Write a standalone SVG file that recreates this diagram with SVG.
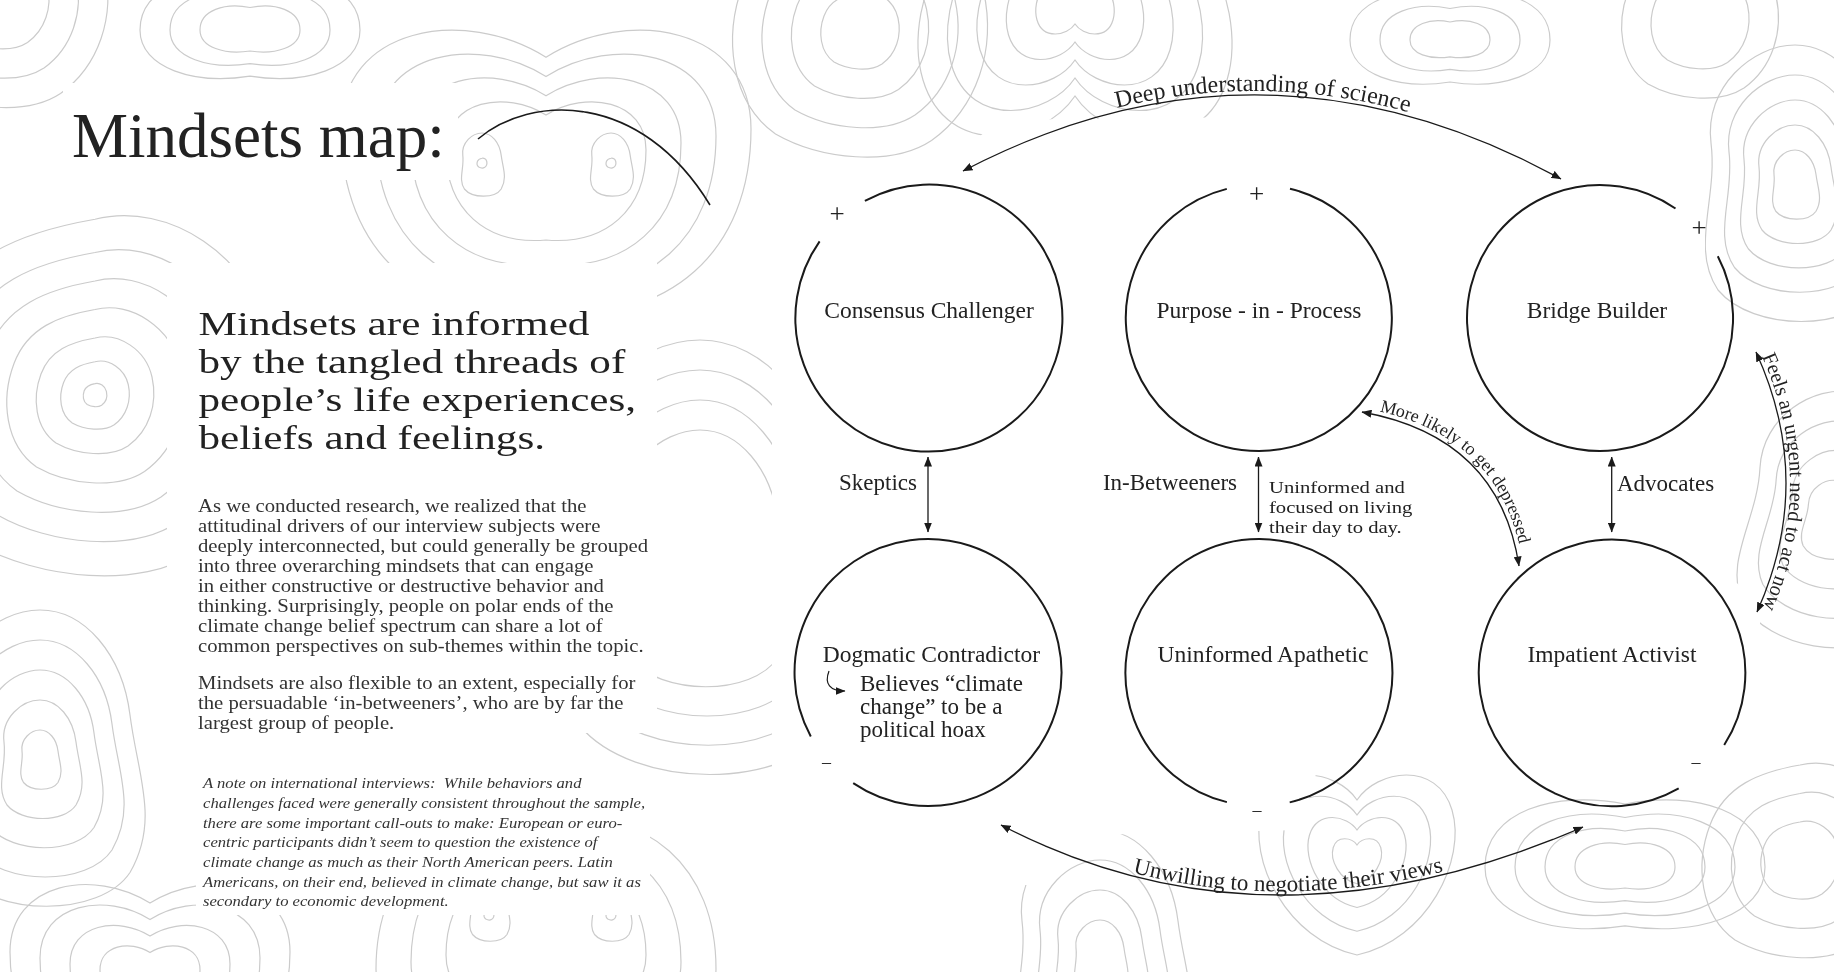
<svg xmlns="http://www.w3.org/2000/svg" xmlns:xlink="http://www.w3.org/1999/xlink" width="1834" height="972" viewBox="0 0 1834 972">
<style>
.t{font-family:"Liberation Serif","Times New Roman",serif;fill:#222}
.lbl{font-size:23.5px;text-anchor:middle}
.sm{font-size:23px}
.ring{fill:none;stroke:#1a1a1a;stroke-width:2}
.ar{fill:none;stroke:#1a1a1a;stroke-width:1.3;marker-start:url(#ah);marker-end:url(#ah)}
.topo{fill:none;stroke:#cbcbcb;stroke-width:1.2}
.sign{font-family:"Liberation Serif",serif;fill:#222;text-anchor:middle}
.ml{font-size:18px}
</style>
<defs>
<marker id="ah" viewBox="0 0 10 8" refX="9.5" refY="4" markerWidth="10" markerHeight="8" markerUnits="userSpaceOnUse" orient="auto-start-reverse"><path d="M0,0 L10,4 L0,8 Z" fill="#1a1a1a"/></marker>
<path id="b1" class="topo" vector-effect="non-scaling-stroke" d="M 0,-95 C 40,-105 85,-75 95,-30 C 105,15 90,60 55,85 C 25,105 -30,100 -65,80 C -100,55 -105,5 -90,-35 C -75,-75 -40,-88 0,-95 Z"/>
<path id="b2" class="topo" vector-effect="non-scaling-stroke" d="M -100,-20 C -100,-70 -40,-80 0,-55 C 40,-80 100,-70 100,-20 C 100,40 60,75 0,70 C -60,75 -100,40 -100,-20 Z"/>
<path id="b3" class="topo" vector-effect="non-scaling-stroke" d="M 0,-100 C 30,-100 55,-70 60,-30 C 65,10 80,40 60,75 C 40,105 -30,105 -55,75 C -75,45 -55,10 -60,-30 C -65,-70 -30,-100 0,-100 Z"/>
<path id="b4" class="topo" vector-effect="non-scaling-stroke" d="M 0,-60 C 20,-90 80,-100 95,-50 C 110,0 70,80 0,95 C -70,80 -110,0 -95,-50 C -80,-100 -20,-90 0,-60 Z"/>
<path id="b5" class="topo" vector-effect="non-scaling-stroke" d="M -100,0 C -100,-40 -50,-55 0,-45 C 50,-55 100,-40 100,0 C 100,35 50,50 0,42 C -50,50 -100,35 -100,0 Z"/>
<mask id="clear" maskUnits="userSpaceOnUse" x="0" y="0" width="1834" height="972">
<rect width="1834" height="972" fill="#fff"/>
<rect x="63" y="83" width="395" height="97" fill="#000"/>
<rect x="167" y="263" width="490" height="470" fill="#000"/>
<rect x="196" y="770" width="454" height="145" fill="#000"/>
<path d="M 772,178 L 950,160 L 1000,120 L 1400,115 L 1640,160 L 1705,200 L 1705,560 L 1760,600 L 1760,760 L 1570,760 L 1545,750 L 1320,760 L 1300,830 L 1090,835 L 1050,885 L 772,885 Z" fill="#000"/>
</mask>
<path id="pDeep" d="M 963 167 Q 1262 11 1561 175"/>
<path id="pUnw" d="M 1001 822 Q 1268 960 1583 824"/>
<path id="pMore" d="M 1365.5 408.4 Q 1503 433.4 1522.5 562.4"/>
<path id="pFeels" d="M 1760 352 Q 1819.5 482 1761 612"/>
</defs>
<rect width="1834" height="972" fill="#fff"/>

<g id="contours" mask="url(#clear)">
<use xlink:href="#b2" transform="translate(546,170) scale(1.0)"/>
<use xlink:href="#b2" transform="translate(546,170) scale(1.35)"/>
<use xlink:href="#b2" transform="translate(546,170) scale(1.7)"/>
<use xlink:href="#b2" transform="translate(546,170) scale(2.05)"/>
<use xlink:href="#b1" transform="translate(482,163) scale(0.05)"/>
<use xlink:href="#b3" transform="translate(482,165) scale(0.32)"/>
<use xlink:href="#b1" transform="translate(611,163) scale(0.05)"/>
<use xlink:href="#b3" transform="translate(611,165) scale(0.32)"/>
<use xlink:href="#b2" transform="translate(546,935) rotate(180) scale(1.0)"/>
<use xlink:href="#b2" transform="translate(546,935) rotate(180) scale(1.35)"/>
<use xlink:href="#b2" transform="translate(546,935) rotate(180) scale(1.7)"/>
<use xlink:href="#b1" transform="translate(489,915) scale(0.05)"/>
<use xlink:href="#b3" transform="translate(489,912) scale(0.3)"/>
<use xlink:href="#b1" transform="translate(611,915) scale(0.05)"/>
<use xlink:href="#b3" transform="translate(611,912) scale(0.3)"/>
<use xlink:href="#b1" transform="translate(95,395) scale(0.12)"/>
<use xlink:href="#b1" transform="translate(95,395) scale(0.35)"/>
<use xlink:href="#b1" transform="translate(95,395) scale(0.6)"/>
<use xlink:href="#b1" transform="translate(95,395) scale(0.9)"/>
<use xlink:href="#b1" transform="translate(95,395) scale(1.2)"/>
<use xlink:href="#b1" transform="translate(95,395) scale(1.5)"/>
<use xlink:href="#b1" transform="translate(95,395) scale(1.85)"/>
<use xlink:href="#b3" transform="translate(40,760) scale(0.3)"/>
<use xlink:href="#b3" transform="translate(40,760) scale(0.6)"/>
<use xlink:href="#b3" transform="translate(40,760) scale(0.9)"/>
<use xlink:href="#b3" transform="translate(40,760) scale(1.2)"/>
<use xlink:href="#b3" transform="translate(40,760) scale(1.5)"/>
<use xlink:href="#b1" transform="translate(0,0) scale(0.5)"/>
<use xlink:href="#b1" transform="translate(0,0) scale(0.8)"/>
<use xlink:href="#b1" transform="translate(0,0) scale(1.1)"/>
<use xlink:href="#b4" transform="translate(1075,0) rotate(180) scale(0.4)"/>
<use xlink:href="#b4" transform="translate(1075,0) rotate(180) scale(0.7)"/>
<use xlink:href="#b4" transform="translate(1075,0) rotate(180) scale(1.0)"/>
<use xlink:href="#b4" transform="translate(1075,0) rotate(180) scale(1.3)"/>
<use xlink:href="#b4" transform="translate(1075,0) rotate(180) scale(1.6)"/>
<use xlink:href="#b3" transform="translate(1795,185) scale(0.35)"/>
<use xlink:href="#b3" transform="translate(1795,185) scale(0.6)"/>
<use xlink:href="#b3" transform="translate(1795,185) scale(0.85)"/>
<use xlink:href="#b3" transform="translate(1795,185) scale(1.1)"/>
<use xlink:href="#b3" transform="translate(1795,185) scale(1.4)"/>
<use xlink:href="#b3" transform="translate(1830,520) rotate(10) scale(0.4)"/>
<use xlink:href="#b3" transform="translate(1830,520) rotate(10) scale(0.7)"/>
<use xlink:href="#b3" transform="translate(1830,520) rotate(10) scale(1.0)"/>
<use xlink:href="#b3" transform="translate(1830,520) rotate(10) scale(1.3)"/>
<use xlink:href="#b5" transform="translate(1625,867) scale(0.5)"/>
<use xlink:href="#b5" transform="translate(1625,867) scale(0.8)"/>
<use xlink:href="#b5" transform="translate(1625,867) scale(1.1)"/>
<use xlink:href="#b5" transform="translate(1625,867) scale(1.4)"/>
<use xlink:href="#b4" transform="translate(1357,860) scale(0.25)"/>
<use xlink:href="#b4" transform="translate(1357,860) scale(0.5)"/>
<use xlink:href="#b4" transform="translate(1357,860) scale(0.75)"/>
<use xlink:href="#b4" transform="translate(1357,860) scale(1.0)"/>
<use xlink:href="#b3" transform="translate(1100,960) scale(0.4)"/>
<use xlink:href="#b3" transform="translate(1100,960) scale(0.7)"/>
<use xlink:href="#b3" transform="translate(1100,960) scale(1.0)"/>
<use xlink:href="#b3" transform="translate(1100,960) scale(1.3)"/>
<use xlink:href="#b3" transform="translate(700,560) scale(1.3)"/>
<use xlink:href="#b3" transform="translate(700,560) scale(1.6)"/>
<use xlink:href="#b3" transform="translate(700,560) scale(1.9)"/>
<use xlink:href="#b3" transform="translate(700,560) scale(2.2)"/>
<use xlink:href="#b1" transform="translate(860,30) scale(0.4)"/>
<use xlink:href="#b1" transform="translate(860,30) scale(0.7)"/>
<use xlink:href="#b1" transform="translate(860,30) scale(1.0)"/>
<use xlink:href="#b1" transform="translate(860,30) scale(1.3)"/>
<use xlink:href="#b1" transform="translate(1800,860) scale(0.4)"/>
<use xlink:href="#b1" transform="translate(1800,860) scale(0.7)"/>
<use xlink:href="#b1" transform="translate(1800,860) scale(1.0)"/>
<use xlink:href="#b5" transform="translate(250,30) scale(0.5)"/>
<use xlink:href="#b5" transform="translate(250,30) scale(0.8)"/>
<use xlink:href="#b5" transform="translate(250,30) scale(1.1)"/>
<use xlink:href="#b2" transform="translate(150,980) scale(0.5)"/>
<use xlink:href="#b2" transform="translate(150,980) scale(0.8)"/>
<use xlink:href="#b2" transform="translate(150,980) scale(1.1)"/>
<use xlink:href="#b2" transform="translate(150,980) scale(1.4)"/>
<use xlink:href="#b5" transform="translate(1450,40) scale(0.4)"/>
<use xlink:href="#b5" transform="translate(1450,40) scale(0.7)"/>
<use xlink:href="#b5" transform="translate(1450,40) scale(1.0)"/>
<use xlink:href="#b1" transform="translate(1700,20) scale(0.5)"/>
<use xlink:href="#b1" transform="translate(1700,20) scale(0.8)"/>
</g>

<g id="title">
<text class="t" x="72" y="157" font-size="63">Mindsets map:</text>
<path d="M 478 139 C 530 95, 640 90, 710 205" fill="none" stroke="#1a1a1a" stroke-width="1.6"/>
</g>

<g id="subheading" transform="translate(198.5,0) scale(1.27,1)">
<text class="t" font-size="34"><tspan x="0" y="335">Mindsets are informed</tspan><tspan x="0" y="373.5">by the tangled threads of</tspan><tspan x="0" y="411">people’s life experiences,</tspan><tspan x="0" y="449.5">beliefs and feelings.</tspan></text>
</g>

<g id="body" transform="translate(198,0) scale(1.12,1)">
<text class="t" font-size="18.5" style="fill:#333">
<tspan x="0" y="511.7">As we conducted research, we realized that the</tspan>
<tspan x="0" y="531.7">attitudinal drivers of our interview subjects were</tspan>
<tspan x="0" y="551.7">deeply interconnected, but could generally be grouped</tspan>
<tspan x="0" y="571.7">into three overarching mindsets that can engage</tspan>
<tspan x="0" y="591.7">in either constructive or destructive behavior and</tspan>
<tspan x="0" y="611.7">thinking. Surprisingly, people on polar ends of the</tspan>
<tspan x="0" y="631.7">climate change belief spectrum can share a lot of</tspan>
<tspan x="0" y="651.7">common perspectives on sub-themes within the topic.</tspan>
<tspan x="0" y="689.3">Mindsets are also flexible to an extent, especially for</tspan>
<tspan x="0" y="709.3">the persuadable ‘in-betweeners’, who are by far the</tspan>
<tspan x="0" y="729.3">largest group of people.</tspan>
</text>
</g>

<g id="note" transform="translate(203,0) scale(1.11,1)">
<text class="t" font-size="15" font-style="italic" style="fill:#333">
<tspan x="0" y="788.3">A note on international interviews:&#160; While behaviors and</tspan>
<tspan x="0" y="808">challenges faced were generally consistent throughout the sample,</tspan>
<tspan x="0" y="827.7">there are some important call-outs to make: European or euro-</tspan>
<tspan x="0" y="847.4">centric participants didn’t seem to question the existence of</tspan>
<tspan x="0" y="867.1">climate change as much as their North American peers. Latin</tspan>
<tspan x="0" y="886.8">Americans, on their end, believed in climate change, but saw it as</tspan>
<tspan x="0" y="906.5">secondary to economic development.</tspan>
</text>
</g>

<g id="connectors">
<line class="ar" x1="928" y1="457" x2="928" y2="532"/>
<line class="ar" x1="1258.5" y1="457" x2="1258.5" y2="532"/>
<line class="ar" x1="1611.7" y1="457" x2="1611.7" y2="532"/>
<path class="ar" d="M 963 171 Q 1262 15 1561 179"/>
<path class="ar" d="M 1001 825 Q 1268 964 1583 827"/>
<path class="ar" d="M 1362 412 Q 1499.5 437 1519 566"/>
<path class="ar" d="M 1756 352 Q 1815.5 482 1757 612"/>
<path d="M 829 671 C 824 684, 830 691, 845 691" fill="none" stroke="#1a1a1a" stroke-width="1.2" marker-end="url(#ah)"/>
<text class="t" font-size="24"><textPath xlink:href="#pDeep" startOffset="50%" text-anchor="middle">Deep understanding of science</textPath></text>
<text class="t" font-size="23"><textPath xlink:href="#pUnw" startOffset="49.5%" text-anchor="middle">Unwilling to negotiate their views</textPath></text>
<text class="t ml"><textPath xlink:href="#pMore" startOffset="14">More</textPath></text>
<text class="t ml"><textPath xlink:href="#pMore" startOffset="57.5">likely</textPath></text>
<text class="t ml"><textPath xlink:href="#pMore" startOffset="103">to</textPath></text>
<text class="t ml"><textPath xlink:href="#pMore" startOffset="121.5">get</textPath></text>
<text class="t ml"><textPath xlink:href="#pMore" startOffset="148">depressed</textPath></text>
<text class="t" font-size="20.5"><textPath xlink:href="#pFeels" startOffset="50%" text-anchor="middle">Feels an urgent need to act now</textPath></text>
<text class="t sm" x="917" y="490" text-anchor="end">Skeptics</text>
<text class="t sm" x="1237" y="490" text-anchor="end">In-Betweeners</text>
<text class="t sm" x="1617" y="491">Advocates</text>
<g transform="translate(1269,0) scale(1.18,1)">
<text class="t" font-size="17.5"><tspan x="0" y="492.7">Uninformed and</tspan><tspan x="0" y="512.7">focused on living</tspan><tspan x="0" y="532.7">their day to day.</tspan></text>
</g>
</g>

<g id="consensus-challenger">
<path class="ring" d="M 864.9 200.9 A 133.5 133.5 0 1 1 819.6 241.4"/>
<text class="sign" x="837" y="223" font-size="27">+</text>
<text class="t lbl" x="929" y="318">Consensus Challenger</text>
</g>
<g id="purpose-in-process">
<path class="ring" d="M 1290 188.7 A 133 133 0 1 1 1226.8 188.9"/>
<text class="sign" x="1256.5" y="203" font-size="27">+</text>
<text class="t lbl" x="1259" y="318">Purpose - in - Process</text>
</g>
<g id="bridge-builder">
<path class="ring" d="M 1717.8 256.2 A 133 133 0 1 1 1675.5 208.5"/>
<text class="sign" x="1699" y="237" font-size="27">+</text>
<text class="t lbl" x="1597" y="318">Bridge Builder</text>
</g>
<g id="dogmatic-contradictor">
<path class="ring" d="M 810.8 736.4 A 133.5 133.5 0 1 1 853.2 783.1"/>
<text class="sign" x="826.5" y="767.5" font-size="18">–</text>
<text class="t lbl" x="931.5" y="662">Dogmatic Contradictor</text>
<text class="t" font-size="23"><tspan x="860" y="691">Believes “climate</tspan><tspan x="860" y="714">change” to be a</tspan><tspan x="860" y="737">political hoax</tspan></text>
</g>
<g id="uninformed-apathetic">
<path class="ring" d="M 1226.9 802.1 A 133.5 133.5 0 1 1 1289.7 802.4"/>
<text class="sign" x="1257" y="816" font-size="18">–</text>
<text class="t lbl" x="1263" y="662">Uninformed Apathetic</text>
</g>
<g id="impatient-activist">
<path class="ring" d="M 1678.7 788.4 A 133.3 133.3 0 1 1 1724.2 745"/>
<text class="sign" x="1696" y="767.5" font-size="18">–</text>
<text class="t lbl" x="1612" y="662">Impatient Activist</text>
</g>
</svg>
